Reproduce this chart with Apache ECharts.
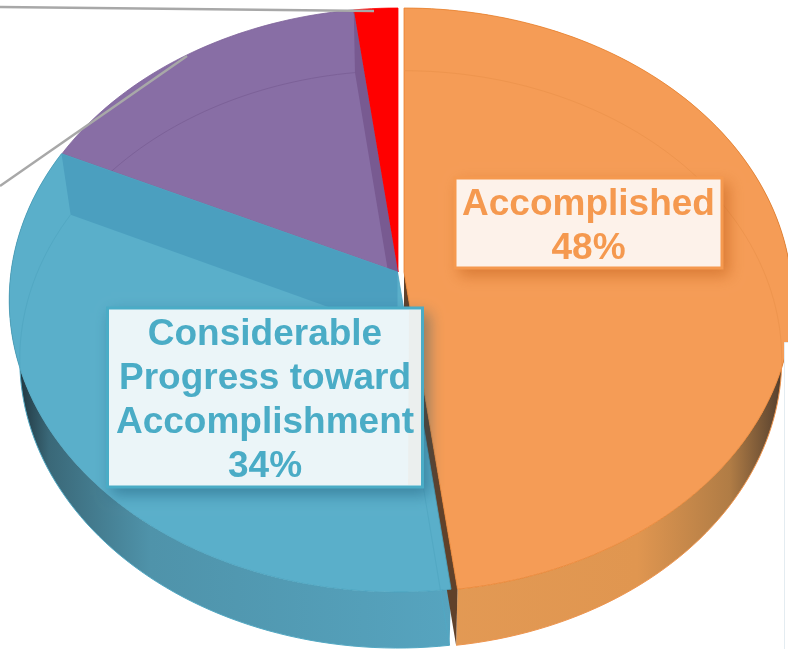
<!DOCTYPE html>
<html>
<head>
<meta charset="utf-8">
<style>html,body{margin:0;padding:0;background:#fff}#c{width:788px;height:649px}</style>
<script src="https://cdn.jsdelivr.net/npm/echarts@6/dist/echarts.min.js"></script>
</head>
<body>
<div id="c"></div>
<script>
// Data
const categories = ['Accomplished', 'Considerable Progress toward Accomplishment', 'Some Progress', 'No Progress'];
const values = [48, 34, 16, 2];
const colors = ['#f59c56', '#5aafca', '#886ea5', '#ff0000'];
const edgeColors = ['#e9822f', '#4aa2be', '#7d6299', '#ff0000'];
const stripColors = ['#60412a', '#4b9fbf', '#785a91', '#ff0000'];
const ghostColors = ['#ee954e', '#52a8c3', '#7c6198', '#ff0000'];
const labelLines0 = ['Accomplished'];
const labelLines1 = ['Considerable', 'Progress toward', 'Accomplishment'];

const total = values.reduce((a, b) => a + b, 0);
const persp = 0.0959;
const topDisc = { cx: 398, cy: 272, rx: 386.5, ry: 289.3 };
const baseDisc = { cx: 398, cy: 331.7, rx: 376, ry: 286 };
const offsets = [[6, 0], [-0.5, 0], [0, 0], [0, 0]];

function project(d, deg, r, off) {
  const t = deg * Math.PI / 180, x = r * Math.sin(t), y = r * Math.cos(t), w = 1 + persp * y;
  return [d.cx + off[0] + d.rx * x / w, d.cy + off[1] - d.ry * y / w];
}
function arc(d, a0, a1, off) {
  const n = Math.max(2, Math.ceil(Math.abs(a1 - a0) / 1.5)), pts = [];
  for (let i = 0; i <= n; i++) pts.push(project(d, a0 + (a1 - a0) * i / n, 1, off));
  return pts;
}
function range(i) {
  let s = 0;
  for (let k = 0; k < i; k++) s += values[k];
  return [s / total * 360, (s + values[i]) / total * 360];
}
function poly(points, style, z2) {
  return { type: 'polygon', z2, silent: true, shape: { points }, style };
}
function line(points, stroke, z2) {
  return { type: 'polyline', z2, silent: true, shape: { points }, style: { fill: 'none', stroke, lineWidth: 1 } };
}
const wallFills = [
  new echarts.graphic.LinearGradient(0, 0, 1, 0, [
    { offset: 0, color: '#e39a55' }, { offset: 0.6, color: '#e09650' },
    { offset: 0.84, color: '#b07c45' }, { offset: 0.96, color: '#5d4530' }, { offset: 1, color: '#2c2218' }]),
  new echarts.graphic.LinearGradient(0, 0, 1, 0, [
    { offset: 0, color: '#18262d' }, { offset: 0.09, color: '#3a6878' },
    { offset: 0.32, color: '#4f93aa' }, { offset: 1, color: '#56a4bf' }])
];

function renderItem(params, api) {
  const i = params.dataIndex, off = offsets[i];
  const v = api.value(0); // slice value comes through the series data
  const [a0, a1] = range(i);
  const topArc = arc(topDisc, a0, a1, off), baseArc = arc(baseDisc, a0, a1, off);
  const apexT = [topDisc.cx + off[0], topDisc.cy + off[1]];
  const apexB = [baseDisc.cx + off[0], baseDisc.cy + off[1]];
  const kids = [];
  const front = i < 2;
  if (front && v > 0) {
    kids.push(poly(topArc.concat(baseArc.slice().reverse()), { fill: wallFills[i] }, 1));
  }
  if (i === 0) {
    const tEnd = topArc[topArc.length - 1], bEnd = baseArc[baseArc.length - 1];
    kids.push(poly([apexT, tEnd, bEnd, apexB], { fill: stripColors[0] }, 2));
  }
  const topZ = front ? 6 : 3;
  kids.push(poly([apexT].concat(topArc), { fill: colors[i], stroke: edgeColors[i], lineWidth: 0.8 }, topZ));
  if (i === 2) {
    const tEnd = topArc[topArc.length - 1], bEnd = baseArc[baseArc.length - 1];
    kids.push(poly([apexT, tEnd, bEnd, apexB], { fill: stripColors[2] }, 4));
    kids.push(line(baseArc, ghostColors[2], 4));
  }
  if (i === 1) {
    const tEnd = topArc[topArc.length - 1], bEnd = baseArc[baseArc.length - 1];
    kids.push(poly([apexT, tEnd, bEnd, apexB], { fill: stripColors[1] }, 7));
    kids.push(line([apexB, baseArc[0]], ghostColors[1], 7));
  }
  if (front) kids.push(line(baseArc, ghostColors[i], 8));
  return { type: 'group', children: kids };
}

function labelBox(x, y, w, h, lines, color, border, shadow, fill) {
  const lh = 44;
  const kids = [{
    type: 'rect', left: x - 1.5, top: y - 1.5, z: 20,
    shape: { width: w + 3, height: h + 3 },
    style: { fill: border, shadowBlur: 14, shadowColor: shadow, shadowOffsetX: 5, shadowOffsetY: 6 }
  }, {
    type: 'rect', left: x + 1.5, top: y + 1.5, z: 20,
    shape: { width: w - 3, height: h - 3 },
    style: { fill }
  }];
  lines.forEach((t, k) => kids.push({
    type: 'text', z: 22, x: x + w / 2, y: y + (h - lh * lines.length) / 2 + lh * k + lh / 2 + 3.5,
    style: { text: t, fill: color, font: 'bold 37px "Liberation Sans", Arial, sans-serif', textAlign: 'center', textVerticalAlign: 'middle' }
  }));
  return kids;
}

const chart = echarts.init(document.getElementById('c'), null, { renderer: 'canvas' });
chart.setOption({
  animation: false,
  backgroundColor: '#fff',
  series: [{
    type: 'custom',
    coordinateSystem: 'none',
    silent: true,
    clip: false,
    data: values.map((v, i) => ({ name: categories[i], value: [v] })),
    renderItem
  }],
  graphic: { elements: [
    { type: 'polyline', z: 15, shape: { points: [[0, 7], [374, 11]] }, style: { stroke: '#a8a8a8', lineWidth: 2.4, fill: 'none' } },
    { type: 'polyline', z: 15, shape: { points: [[0, 186], [187, 56]] }, style: { stroke: '#a8a8a8', lineWidth: 2.4, fill: 'none' } },
    { type: 'rect', z: 16, left: 784, top: 342, shape: { width: 8, height: 320 }, style: { fill: '#fff', stroke: '#e4ecf1', lineWidth: 1 } },
    ...labelBox(455, 178, 267, 90, labelLines0.concat(values[0] + '%'), '#f5994f', '#f5994f', 'rgba(190,90,20,0.5)', '#fdf2ea'),
    ...labelBox(107.5, 308, 315, 179, labelLines1.concat(values[1] + '%'), '#4aacc6', '#4aacc6', 'rgba(20,80,110,0.45)', '#ebf5f8'),
    { type: 'polygon', z: 21, shape: { points: [[409, 310], [421, 310], [421, 485], [408, 485]] }, style: { fill: 'rgba(245,170,110,0.07)' } }
  ] }
});
</script>
</body>
</html>
